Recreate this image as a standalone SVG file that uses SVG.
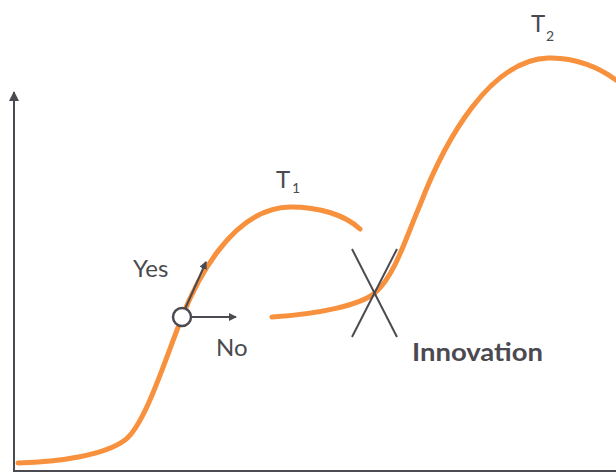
<svg xmlns="http://www.w3.org/2000/svg" width="616" height="472" viewBox="0 0 616 472">
<defs>
<style>
.curve{fill:none;stroke:#f7913d;stroke-width:5;stroke-linecap:round}
.ax{fill:none;stroke:#4a4a50;stroke-width:2}
.ln{fill:none;stroke:#4a4a50;stroke-width:2}
.lbl{font-family:Lato,"Liberation Sans",sans-serif;font-size:24px;fill:#4a4a50;font-weight:400}
.sub{font-family:Lato,"Liberation Sans",sans-serif;font-size:14px;fill:#4a4a50;font-weight:400}
.bold{font-family:Lato,"Liberation Sans",sans-serif;font-size:24px;fill:#4a4a50;font-weight:700}
</style>
<marker id="ah" markerWidth="8" markerHeight="8" refX="7" refY="4" orient="auto" markerUnits="userSpaceOnUse">
<path d="M0,0 L8,4 L0,8 z" fill="#4a4a50"/>
</marker>
<marker id="ahs" markerWidth="10" markerHeight="10" refX="9" refY="5" orient="auto" markerUnits="userSpaceOnUse">
<path d="M0,0 L10,5 L0,10 z" fill="#4a4a50"/>
</marker>
</defs>
<rect width="616" height="472" fill="#ffffff"/>
<g id="axes">
<line class="ax" x1="14" y1="471" x2="14" y2="92" marker-end="url(#ahs)"/>
<line class="ax" x1="13" y1="471" x2="616" y2="471"/>
</g>
<g id="curve-t1">
<path class="curve" d="M18,463 C60,462 105,455 125,440 C145,425 165,360 182,317 C194,287 230,208 290,207 C320,207 345,215 360,229"/>
<text class="lbl" x="276" y="188">T</text>
<text class="sub" x="292" y="193">1</text>
</g>
<g id="curve-t2">
<path class="curve" d="M272,317 C320,314 360,305 375,293 C395,275 405,240 420,205 C445,140 490,60 548,58 C575,57 600,68 616,80"/>
<text class="lbl" x="531" y="32">T</text>
<text class="sub" x="546" y="41">2</text>
</g>
<g id="connectors">
<line class="ln" x1="185" y1="309" x2="206" y2="262" marker-end="url(#ah)"/>
<line class="ln" x1="191" y1="317" x2="236" y2="317" marker-end="url(#ah)"/>
<line class="ln" x1="352" y1="249" x2="397" y2="337"/>
<line class="ln" x1="397" y1="249" x2="352" y2="337"/>
</g>
<g id="decision">
<circle cx="182" cy="317" r="9" fill="#ffffff" stroke="#4a4a50" stroke-width="2.5"/>
</g>
<g id="labels">
<text class="lbl" x="133" y="277">Yes</text>
<text class="lbl" x="216" y="356">No</text>
<text class="bold" x="412" y="361" textLength="131" lengthAdjust="spacingAndGlyphs">Innovation</text>
</g>
</svg>
